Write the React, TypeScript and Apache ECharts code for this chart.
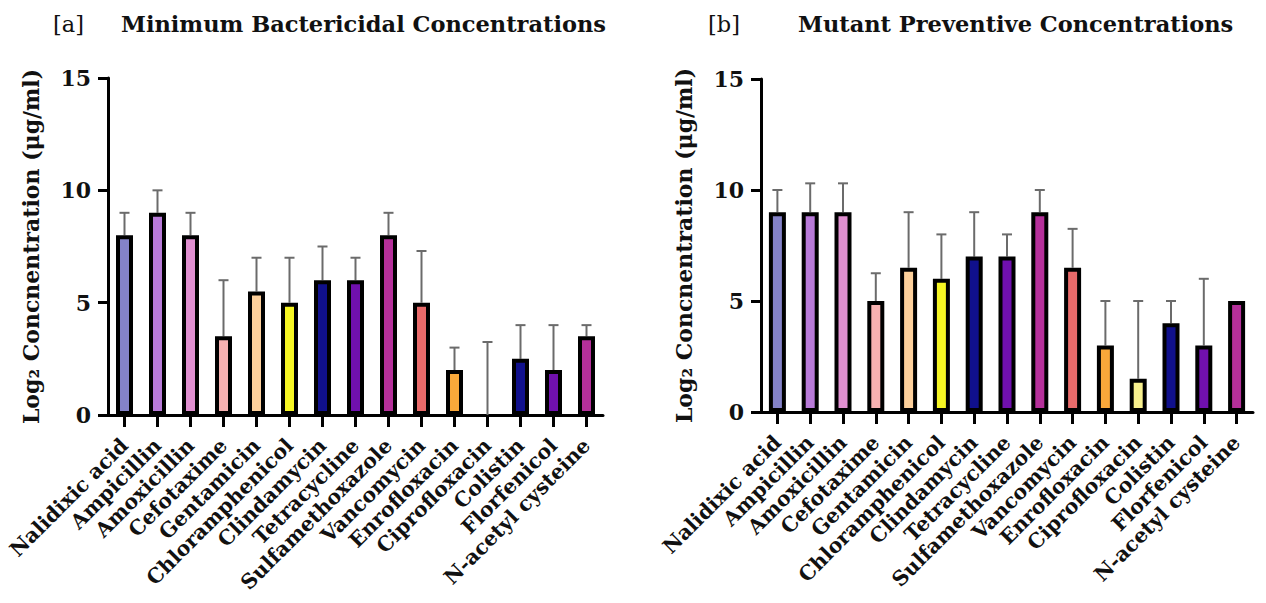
import React, { useEffect, useRef } from "react";
import * as echarts from "echarts";

const categories = [
  "Nalidixic acid", "Ampicillin", "Amoxicillin", "Cefotaxime", "Gentamicin",
  "Chloramphenicol", "Clindamycin", "Tetracycline", "Sulfamethoxazole", "Vancomycin",
  "Enrofloxacin", "Ciprofloxacin", "Colistin", "Florfenicol", "N-acetyl cysteine",
];
const mbcValues = [8, 9, 8, 3.5, 5.5, 5, 6, 6, 8, 5, 2, 0, 2.5, 2, 3.5];
const mbcErrorTops = [9, 10, 9, 6, 7, 7, 7.5, 7, 9, 7.3, 3, 3.25, 4, 4, 4];
const mpcValues = [9, 9, 9, 5, 6.5, 6, 7, 7, 9, 6.5, 3, 1.5, 4, 3, 5];
const mpcErrorTops = [10, 10.3, 10.3, 6.25, 9, 8, 9, 8, 10, 8.25, 5, 5, 5, 6, null];
const yTicks = [0, 5, 10, 15];
const barColorsA = [
  "#8482c8", "#b87ad8", "#e08fd0", "#f7b1b1", "#fdd09b", "#f5f523", "#10108c", "#7010ae",
  "#b5309a", "#e86a6a", "#f9a83a", "#ffffff", "#10108c", "#7010ae", "#b5309a",
];
const barColorsB = [
  "#8482c8", "#b87ad8", "#e08fd0", "#f7b1b1", "#fdd09b", "#f5f523", "#10108c", "#7010ae",
  "#b5309a", "#e86a6a", "#f9a83a", "#f8f08e", "#10108c", "#7010ae", "#b5309a",
];

const FONT = "DejaVu Serif";

export default function App() {
  const ref = useRef<HTMLDivElement>(null);
  useEffect(() => {
    const chart = echarts.init(ref.current!, null, { renderer: "svg" });
    const axisLine = { show: true, lineStyle: { color: "#000", width: 3 } };
    const mkX = (gridIndex: number) => ({
      type: "category",
      gridIndex,
      data: categories,
      boundaryGap: true,
      axisLine,
      axisTick: { show: true, alignWithLabel: true, length: 12, lineStyle: { color: "#000", width: 3 } },
      axisLabel: {
        rotate: 45,
        interval: 0,
        margin: 27,
        fontFamily: FONT,
        fontWeight: "bold",
        fontSize: 20.5,
        color: "#111",
      },
      splitLine: { show: false },
    });
    const mkY = (gridIndex: number) => ({
      type: "value",
      gridIndex,
      min: 0,
      max: 15,
      interval: 5,
      name: "Log\u2082 Concnentration (\u03bcg/ml)",
      nameLocation: "middle",
      nameGap: 66,
      nameTextStyle: { fontFamily: FONT, fontWeight: "bold", fontSize: 22, color: "#111" },
      axisLine,
      axisTick: { show: true, length: 10, lineStyle: { color: "#000", width: 3 } },
      axisLabel: {
        margin: 17,
        fontFamily: FONT,
        fontWeight: "bold",
        fontSize: 22,
        color: "#111",
        formatter: (v: number) => (yTicks.includes(v) ? String(v) : ""),
      },
      splitLine: { show: false },
    });
    const barSeries = (idx: number, values: number[], colors: string[]) => ({
      type: "bar",
      xAxisIndex: idx,
      yAxisIndex: idx,
      barWidth: 17,
      data: values.map((v, i) => ({
        value: v,
        itemStyle: {
          color: colors[i],
          borderColor: v > 0 ? "#000" : "transparent",
          borderWidth: 4,
        },
      })),
      z: 2,
    });
    const errSeries = (idx: number, values: number[], tops: (number | null)[]) => ({
      type: "custom",
      xAxisIndex: idx,
      yAxisIndex: idx,
      z: 1,
      data: values.map((v, i) => [i, v, tops[i] == null ? v : tops[i]]),
      renderItem: (params: any, api: any) => {
        const x = api.value(0);
        const v = api.value(1);
        const e = api.value(2);
        if (e <= v) return null;
        const p0 = api.coord([x, v]);
        const p1 = api.coord([x, e]);
        const st = { stroke: "#6b6b6b", lineWidth: 2 };
        return {
          type: "group",
          children: [
            { type: "line", shape: { x1: p0[0], y1: p0[1], x2: p1[0], y2: p1[1] }, style: st },
            { type: "line", shape: { x1: p1[0] - 5, y1: p1[1], x2: p1[0] + 5, y2: p1[1] }, style: st },
          ],
        };
      },
    });
    const titleStyle = { fontFamily: FONT, fontWeight: "bold", fontSize: 22.5, color: "#111" };
    chart.setOption({
      animation: false,
      backgroundColor: "#fff",
      title: [
        { text: "[a]", left: 48, top: 7, textStyle: { ...titleStyle, fontWeight: "normal" } },
        { text: "Minimum Bactericidal Concentrations", left: 116, top: 7, textStyle: titleStyle },
        { text: "[b]", left: 703, top: 7, textStyle: { ...titleStyle, fontWeight: "normal" } },
        { text: "Mutant Preventive Concentrations", left: 793, top: 7, textStyle: titleStyle },
      ],
      grid: [
        { left: 108, top: 78, width: 495, height: 337, containLabel: false },
        { left: 761, top: 79, width: 492, height: 333, containLabel: false },
      ],
      xAxis: [mkX(0), mkX(1)],
      yAxis: [mkY(0), mkY(1)],
      series: [
        errSeries(0, mbcValues, mbcErrorTops),
        barSeries(0, mbcValues, barColorsA),
        errSeries(1, mpcValues, mpcErrorTops),
        barSeries(1, mpcValues, barColorsB),
      ],
    });
    return () => chart.dispose();
  }, []);
  return <div ref={ref} style={{ position: "fixed", left: 0, top: 0, width: 1266, height: 603 }} />;
}
